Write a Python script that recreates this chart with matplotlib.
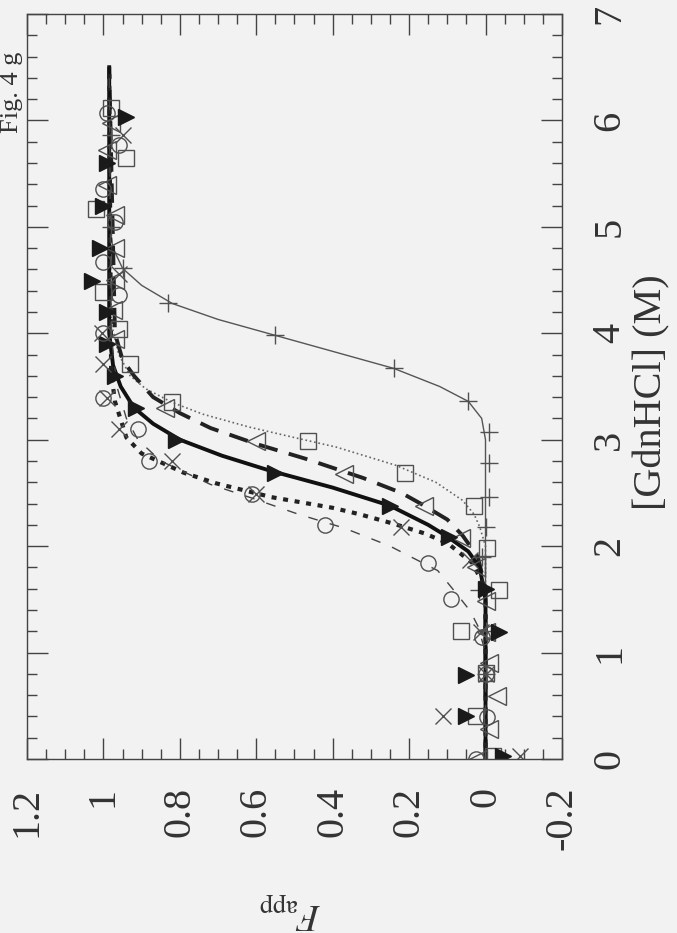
import numpy as np
import matplotlib
matplotlib.use('Agg')
import matplotlib.pyplot as plt
from matplotlib.ticker import MultipleLocator

plt.rcParams['font.family'] = ['Liberation Serif', 'DejaVu Serif']
plt.rcParams['mathtext.fontset'] = 'stix'

# page is scanned rotated 90 deg: F_app runs horizontally (inverted), [GdnHCl] vertically
# data as [GdnHCl] (M) vs F_app

# + series
plus_G = [0.8, 1.2, 1.59, 1.9, 2.18, 2.46, 2.78, 3.07, 3.36, 3.67, 3.98, 4.28, 4.61, 5.0, 5.86]
plus_F = [0.0, 0.0, 0.016, 0.008, 0.0, -0.01, -0.01, -0.01, 0.045, 0.24, 0.55, 0.83, 0.95, 0.98, 0.98]
plus_fit_G = [0.0, 3.0, 3.2, 3.36, 3.5, 3.67, 3.82, 3.98, 4.13, 4.28, 4.45, 4.61, 4.8, 5.0, 6.5]
plus_fit_F = [0.0, 0.0, 0.01, 0.045, 0.12, 0.24, 0.39, 0.55, 0.70, 0.82, 0.90, 0.95, 0.975, 0.985, 0.985]

# open squares
sq_G = [0.03, 0.4, 0.81, 1.2, 1.59, 1.98, 2.38, 2.69, 2.99, 3.35, 3.71, 4.04, 4.39, 5.17, 5.65, 6.12]
sq_F = [-0.02, 0.026, 0.0, 0.065, -0.035, -0.005, 0.03, 0.21, 0.465, 0.82, 0.93, 0.96, 1.0, 1.02, 0.94, 0.98]
sq_fit_G = [0.0, 2.0, 2.18, 2.3, 2.43, 2.6, 2.76, 2.93, 3.02, 3.12, 3.24, 3.35, 3.48, 3.6, 3.8, 4.1, 6.5]
sq_fit_F = [0.0, 0.0, 0.015, 0.03, 0.06, 0.13, 0.235, 0.39, 0.50, 0.62, 0.74, 0.82, 0.89, 0.93, 0.96, 0.98, 0.985]

# open triangles
to_G = [0.0, 0.28, 0.59, 0.9, 1.19, 1.48, 1.8, 2.08, 2.38, 2.68, 2.99, 3.3, 3.95, 4.22, 4.5, 4.8, 5.11, 5.39, 5.72, 5.98]
to_F = [0.02, -0.01, -0.03, -0.01, 0.0, 0.0, 0.026, 0.065, 0.16, 0.37, 0.60, 0.84, 0.97, 0.975, 0.97, 0.97, 0.97, 0.99, 0.99, 0.98]
to_fit_G = [0.0, 1.6, 1.9, 2.1, 2.25, 2.4, 2.5, 2.64, 2.82, 2.96, 3.11, 3.25, 3.4, 3.6, 3.75, 4.0, 6.5]
to_fit_F = [0.0, 0.0, 0.02, 0.06, 0.10, 0.17, 0.22, 0.32, 0.47, 0.60, 0.72, 0.80, 0.87, 0.92, 0.95, 0.97, 0.985]

# filled triangles
tf_G = [0.03, 0.40, 0.79, 1.19, 1.6, 2.09, 2.38, 2.69, 3.0, 3.3, 3.6, 3.9, 4.2, 4.49, 4.8, 5.2, 5.6, 6.03]
tf_F = [-0.045, 0.05, 0.05, -0.035, 0.0, 0.095, 0.25, 0.55, 0.81, 0.915, 0.97, 0.99, 0.99, 1.03, 1.01, 1.0, 0.99, 0.94]
tf_fit_G = [0.0, 1.5, 1.8, 1.95, 2.09, 2.2, 2.38, 2.55, 2.71, 2.85, 3.0, 3.15, 3.3, 3.5, 3.7, 4.0, 6.5]
tf_fit_F = [0.0, 0.0, 0.015, 0.045, 0.10, 0.15, 0.25, 0.40, 0.565, 0.69, 0.80, 0.87, 0.92, 0.955, 0.975, 0.985, 0.985]

# crosses
x_G = [0.03, 0.4, 0.8, 1.19, 1.87, 2.18, 2.49, 2.80, 3.10, 3.39, 3.71, 4.0, 4.56, 5.86]
x_F = [-0.09, 0.11, 0.0, 0.013, 0.04, 0.22, 0.60, 0.82, 0.96, 0.99, 1.0, 1.005, 0.96, 0.95]
x_fit_G = [0.0, 1.6, 1.84, 2.03, 2.12, 2.21, 2.30, 2.36, 2.46, 2.59, 2.69, 2.87, 3.02, 3.36, 3.63, 6.5]
x_fit_F = [0.0, 0.0, 0.034, 0.10, 0.16, 0.24, 0.33, 0.40, 0.56, 0.705, 0.79, 0.90, 0.94, 0.97, 0.98, 0.985]

# open circles
c_G = [0.0, 0.39, 0.8, 1.15, 1.5, 1.84, 2.2, 2.49, 2.80, 3.10, 3.39, 4.0, 4.36, 4.67, 5.05, 5.36, 5.77, 6.07]
c_F = [0.026, -0.005, 0.0, 0.008, 0.09, 0.15, 0.42, 0.61, 0.88, 0.91, 1.0, 1.0, 0.96, 1.0, 0.97, 1.0, 0.96, 0.99]
c_fit_G = [0.0, 1.0, 1.25, 1.39, 1.55, 1.77, 2.0, 2.17, 2.30, 2.45, 2.58, 2.8, 3.0, 3.2, 3.5, 4.0, 6.5]
c_fit_F = [0.0, 0.0, 0.02, 0.04, 0.075, 0.125, 0.25, 0.37, 0.49, 0.61, 0.72, 0.85, 0.91, 0.94, 0.965, 0.98, 0.985]

xticks = [1.2, 1.0, 0.8, 0.6, 0.4, 0.2, 0.0, -0.2]
xticklabels = ['1.2', '1', '0.8', '0.6', '0.4', '0.2', '0', '-0.2']
yticks = [0, 1, 2, 3, 4, 5, 6, 7]

bg = '#f2f2f2'
fig = plt.figure(figsize=(6.77, 9.33), dpi=100, facecolor=bg)
ax = fig.add_axes([0.040, 0.1865, 0.790, 0.7985], facecolor=bg)

ax.plot(plus_fit_F, plus_fit_G, '-', color='#555555', lw=1.0)
ax.plot(sq_fit_F, sq_fit_G, ':', color='#666666', lw=1.2)
ax.plot(to_fit_F, to_fit_G, color='#222222', lw=2.8, dashes=(5, 3))
ax.plot(tf_fit_F, tf_fit_G, '-', color='#111111', lw=2.8)
ax.plot(x_fit_F, x_fit_G, color='#222222', lw=3.0, dashes=(1.2, 1.6))
ax.plot(c_fit_F, c_fit_G, color='#444444', lw=1.0, dashes=(7, 9))

mk = dict(ls='none', mec='#505050', mew=1.0)
ax.plot(plus_F, plus_G, marker='+', ms=13, **mk)
ax.plot(sq_F, sq_G, marker='s', ms=12, mfc='none', **mk)
ax.plot(to_F, to_G, marker='<', ms=13, mfc='none', **mk)
ax.plot(tf_F, tf_G, marker='>', ms=12, mfc='#1a1a1a', ls='none', mec='#1a1a1a', mew=1.0)
ax.plot(x_F, x_G, marker='x', ms=11, **mk)
ax.plot(c_F, c_G, marker='o', ms=11, mfc='none', **mk)

ax.set_xlim(1.2, -0.2)
ax.set_ylim(0, 7)
ax.set_xticks(xticks)
ax.set_xticklabels(xticklabels, rotation=90, va='top', ha='center')
ax.set_yticks(yticks)
ax.set_yticklabels([str(v) for v in yticks], rotation=90, va='center', ha='left')
ax.xaxis.set_minor_locator(MultipleLocator(0.05))
ax.yaxis.set_minor_locator(MultipleLocator(0.2))
ax.tick_params(which='both', direction='in', top=True, bottom=True, left=True, right=True,
               labelleft=False, labelright=True, colors='#444444', labelcolor='#333333', width=1.0)
ax.tick_params(which='major', length=15)
ax.tick_params(which='minor', length=7)
ax.tick_params(axis='x', which='major', labelsize=29, pad=20)
ax.tick_params(axis='y', which='major', labelsize=29, pad=21)
for s in ax.spines.values():
    s.set_color('#444444')
    s.set_linewidth(1.0)

fig.text(652 / 677, 1 - 392 / 933, '[GdnHCl] (M)', rotation=90, ha='center', va='center',
         fontsize=29, color='#333333')
fig.text(290 / 677, 1 - 910 / 933, r'$F_{\rm app}$', rotation=180, ha='center', va='center',
         fontsize=27, color='#333333')
fig.text(1 / 677, 1 - 92 / 933, 'Fig. 4 g', rotation=90, ha='left', va='center',
         fontsize=19, color='#333333')

fig.savefig('out.png', dpi=100, facecolor=bg)
